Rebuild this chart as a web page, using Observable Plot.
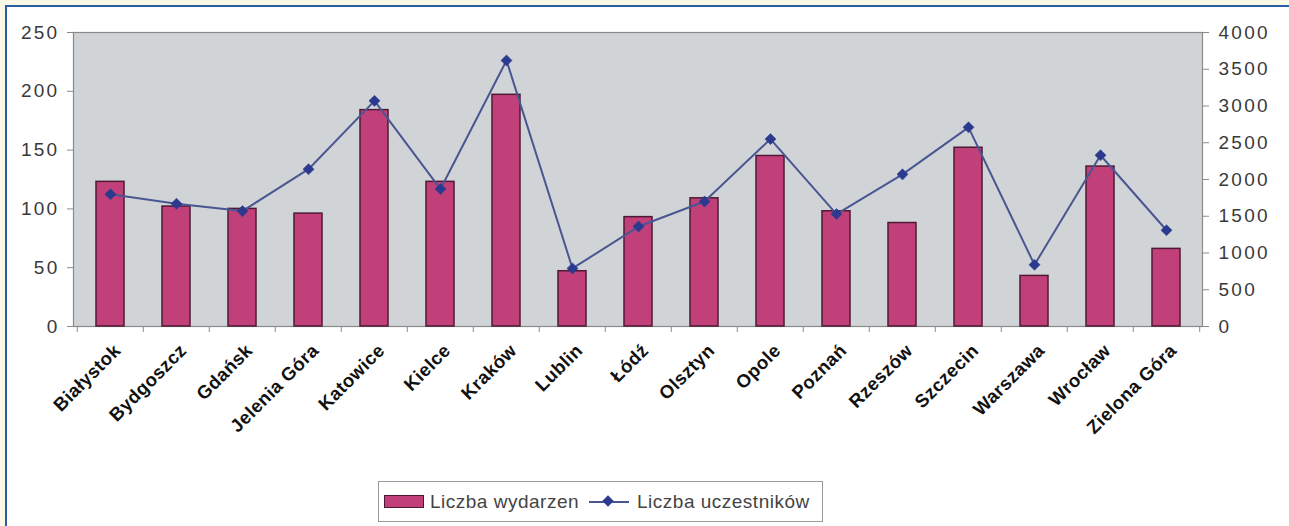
<!DOCTYPE html>
<html>
<head>
<meta charset="utf-8">
<script src="https://cdn.jsdelivr.net/npm/d3@7"></script>
<script src="https://cdn.jsdelivr.net/npm/@observablehq/plot@0.6"></script>
<style>
  html, body { margin: 0; padding: 0; background: #fcf8e6; width: 1289px; height: 526px; overflow: hidden; }
  #frame { position: absolute; left: 5px; top: 5px; width: 1284px; height: 521px; box-sizing: border-box;
           background: #ffffff; border-top: 2px solid #2d5ca6; border-left: 2px solid #2d5ca6; }
  #chart { position: absolute; left: 0; top: 0; }
  #chart g[aria-label="y-axis tick label"] text { letter-spacing: 2.3px; }
  #chart g[aria-label="x-axis tick label"] text { letter-spacing: 0.4px; }
  #legend { position: absolute; left: 371px; top: 474px; width: 445px; height: 41px; box-sizing: border-box;
            border: 1px solid #9a9a9a; background: #fff; display: flex; align-items: center;
            font-family: "Liberation Sans", Arial, sans-serif; font-size: 19px; color: #444; letter-spacing: 0.5px; }
  .sw-bar { width: 40px; height: 13px; background: #c2407a; border: 1.5px solid #4d1a35; margin-left: 5px; margin-right: 6px; box-sizing: border-box; }
  .sw-line { position: relative; width: 40px; height: 14px; margin-left: 10px; margin-right: 8px; }
  .sw-line::before { content: ""; position: absolute; left: 0; right: 0; top: 6px; height: 2px; background: #4a5691; }
  .sw-line::after { content: ""; position: absolute; left: 15px; top: 2px; width: 8px; height: 8px; background: #2b3a8f; transform: rotate(45deg); }
</style>
</head>
<body>
<div id="frame">
  <div id="chart"></div>
  <div id="legend">
    <span class="sw-bar"></span><span id="lab1"></span>
    <span class="sw-line"></span><span id="lab2"></span>
  </div>
</div>
<script>
const cities = ["Białystok", "Bydgoszcz", "Gdańsk", "Jelenia Góra", "Katowice", "Kielce", "Kraków", "Lublin", "Łódź", "Olsztyn", "Opole", "Poznań", "Rzeszów", "Szczecin", "Warszawa", "Wrocław", "Zielona Góra"];
const events = [123, 102, 100, 96, 184, 123, 197, 47, 93, 109, 145, 98, 88, 152, 43, 136, 66];
const participants = [1800, 1670, 1570, 2140, 3070, 1870, 3620, 790, 1360, 1700, 2550, 1530, 2070, 2710, 840, 2330, 1310];
const leftTicks = [0, 50, 100, 150, 200, 250];
const rightTicks = [0, 500, 1000, 1500, 2000, 2500, 3000, 3500, 4000];
const seriesNames = ["Liczba wydarzen", "Liczba uczestników"];

document.getElementById("lab1").textContent = seriesNames[0];
document.getElementById("lab2").textContent = seriesNames[1];

const data = cities.map((c, i) => ({city: c, events: events[i], participants: participants[i]}));
const leftMax = leftTicks[leftTicks.length - 1];
const rightMax = rightTicks[rightTicks.length - 1];
const ratio = rightMax / leftMax;

const W = 1282, H = 470, ML = 66, MR = 87, MT = 25, MB = 151;
const step = (W - ML - MR) / cities.length;

const chart = Plot.plot({
  width: W, height: H,
  marginLeft: ML, marginRight: MR, marginTop: MT, marginBottom: MB,
  style: {fontFamily: "'Liberation Sans', Arial, sans-serif", background: "transparent", overflow: "visible"},
  x: {domain: cities, paddingInner: 0.58, paddingOuter: 0.29, axis: null},
  y: {domain: [0, leftMax], axis: null},
  marks: [
    Plot.frame({fill: "#d1d4d7", stroke: "#8a8a8a", strokeWidth: 1.2}),
    Plot.ruleX(cities, {x: d => d, dx: -step / 2, y1: 0, y2: -5, stroke: "#8a8a8a"}),
    Plot.ruleX([cities[cities.length - 1]], {x: d => d, dx: step / 2, y1: 0, y2: -5, stroke: "#8a8a8a"}),
    Plot.barY(data, {x: "city", y: "events", fill: "#c2407a", stroke: "#4d1a35", strokeWidth: 1.5}),
    Plot.line(data, {x: "city", y: d => d.participants / ratio, stroke: "#4a5691", strokeWidth: 2}),
    Plot.dot(data, {x: "city", y: d => d.participants / ratio, symbol: "diamond2", r: 5, fill: "#2b3a8f", stroke: "#2b3a8f", strokeWidth: 0.5}),
    Plot.axisY(leftTicks, {anchor: "left", label: null, tickSize: 6, tickPadding: 8, fontSize: 19, color: "#3a3a3a", stroke: "#8a8a8a"}),
    Plot.axisY(rightTicks.map(v => v / ratio), {anchor: "right", label: null, tickSize: 6, tickPadding: 10, fontSize: 19, color: "#3a3a3a", stroke: "#8a8a8a",
      tickFormat: d => String(Math.round(d * ratio))}),
    Plot.axisX({anchor: "bottom", label: null, tickSize: 0, tickPadding: 21, tickRotate: -45, fontSize: 18.5, fontWeight: "bold", color: "#111", dx: 7})
  ]
});
document.getElementById("chart").appendChild(chart);
</script>
</body>
</html>
